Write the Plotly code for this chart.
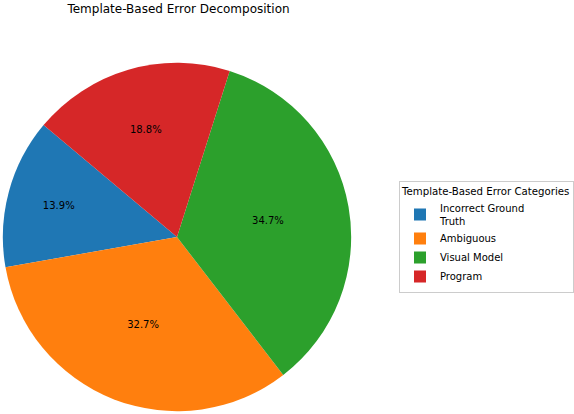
import plotly.graph_objects as go

categories = ["Incorrect Ground<br>Truth", "Ambiguous", "Visual Model", "Program"]
shares = [13.9, 32.7, 34.7, 18.8]
colors = ["#1f77b4", "#ff7f0e", "#2ca02c", "#d62728"]

fig = go.Figure(
    go.Pie(
        labels=categories,
        values=shares,
        sort=False,
        direction="counterclockwise",
        rotation=260,
        marker={"colors": colors, "line": {"width": 0}},
        texttemplate="%{value:.1f}%",
        textposition="inside",
        insidetextorientation="horizontal",
        textfont={"family": "DejaVu Sans", "size": 10, "color": "black"},
        domain={"x": [0.005, 0.615], "y": [0.005, 0.85]},
        hoverinfo="label+value",
    )
)
fig.update_layout(
    width=574,
    height=414,
    margin={"l": 0, "r": 0, "t": 0, "b": 0},
    paper_bgcolor="white",
    font={"family": "DejaVu Sans", "color": "black"},
    title={
        "text": "Template-Based Error Decomposition",
        "x": 0.311,
        "xanchor": "center",
        "y": 0.978,
        "yanchor": "middle",
        "font": {"size": 12},
    },
    legend={
        "title": {"text": "Template-Based Error Categories", "font": {"size": 10.2}},
        "font": {"size": 10},
        "x": 0.699,
        "xanchor": "left",
        "y": 0.428,
        "yanchor": "middle",
        "bordercolor": "#cccccc",
        "borderwidth": 1,
        "tracegroupgap": 0,
    },
)
fig.write_html(
    "out.html",
    config={"displayModeBar": False},
    post_script="document.body.style.margin='0';",
)
